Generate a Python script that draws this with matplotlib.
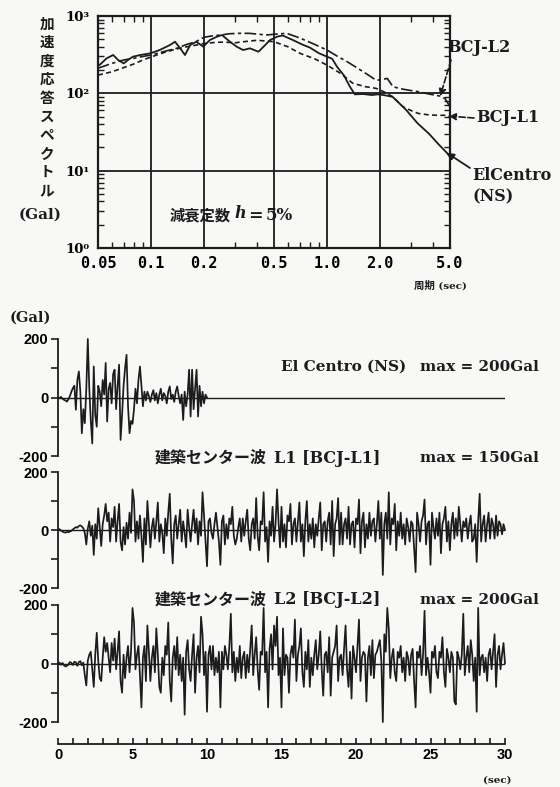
import numpy as np
import matplotlib.pyplot as plt
from matplotlib.ticker import LogLocator, NullFormatter, FixedLocator, MultipleLocator

# 加速度応答スペクトル h=5% (周期 sec, Gal)
ec_period = [0.05, 0.051, 0.056, 0.061, 0.065, 0.07, 0.074, 0.079, 0.087, 0.099,
             0.112, 0.128, 0.137, 0.149, 0.156, 0.167, 0.181, 0.198, 0.216, 0.237,
             0.253, 0.281, 0.307, 0.334, 0.365, 0.408, 0.436, 0.475, 0.52, 0.56,
             0.64, 0.72, 0.8, 0.9, 1.0, 1.07, 1.14, 1.25, 1.35, 1.44,
             1.6, 1.8, 1.94, 2.1, 2.36, 2.8, 3.27, 3.8, 4.3, 4.8, 5.0]
ec_sa = [240, 232, 284, 313, 270, 244, 270, 298, 313, 329,
         363, 421, 465, 363, 313, 421, 465, 401, 489, 540,
         568, 465, 401, 363, 382, 345, 401, 489, 540, 560,
         489, 430, 390, 330, 298, 280, 221, 170, 122, 97,
         98, 95, 97, 95, 90, 62, 41, 30, 22, 17, 15]

l1_period = [0.05, 0.06, 0.07, 0.08, 0.09, 0.1, 0.12, 0.14, 0.16, 0.18,
             0.2, 0.23, 0.26, 0.3, 0.35, 0.4, 0.45, 0.5, 0.6, 0.7,
             0.85, 1.0, 1.2, 1.4, 1.65, 1.9, 2.1, 2.37, 2.7, 3.0,
             3.3, 3.7, 4.2, 4.8, 5.0]
l1_sa = [172, 190, 215, 240, 270, 295, 340, 375, 400, 420,
         440, 455, 460, 450, 470, 485, 475, 465, 400, 330,
         280, 232, 180, 135, 122, 116, 105, 90, 67, 60,
         55, 53, 52, 52, 50]

l2_period = [0.05, 0.06, 0.07, 0.08, 0.09, 0.1, 0.12, 0.14, 0.16, 0.18,
             0.2, 0.22, 0.25, 0.28, 0.32, 0.36, 0.4, 0.45, 0.5, 0.59,
             0.7, 0.85, 1.0, 1.15, 1.3, 1.5, 1.7, 1.9, 2.05, 2.2,
             2.37, 2.6, 2.9, 3.3, 3.8, 4.4, 4.7, 5.0]
l2_sa = [211, 244, 270, 284, 300, 313, 350, 382, 430, 465,
         530, 551, 568, 590, 597, 597, 585, 568, 580, 597,
         520, 430, 363, 300, 257, 210, 175, 148, 150, 156,
         122, 115, 110, 105, 98, 92, 85, 67]

# 加速度波形 (Gal), 0.1秒刻み
dt = 0.1
ec_acc = [0, -2, 2, -4, -8, -10, -14, -6, 5, 20,
          32, 40, -42, 60, 89, 20, -122, -40, -88, 30,
          200, 30, -80, -157, 106, -60, -100, 40, 20, -30,
          60, 10, 118, -82, 30, 50, -20, 80, 95, -40,
          40, 112, -145, -60, 40, 100, 146, -30, -122, -80,
          -90, -40, 30, -20, 60, 106, 40, -30, 20, -10,
          20, 5, -15, 10, 25, -10, 15, -20, 10, 30,
          -10, 15, 5, -20, 20, 38, -5, 10, -15, 20,
          38, 5, -20, 10, -77, 20, -30, 10, 95, -65,
          95, -40, 30, 95, -65, 40, -30, 20, -20, 10,
          0]

l1_acc = [0, 3, -2, -5, -8, -9, -6, -8, -5, -3,
          2, 6, 10, 8, 14, 16, 12, 6, -10, -50,
          5, 30, -20, 15, -86, 20, -30, 75, 10, -55,
          20, 50, 90, 30, 60, -40, 40, 10, 80, -40,
          30, 90, -40, -70, 10, -50, 25, -30, 60, -10,
          140, 100, -40, 30, -30, 50, -20, -110, 40, -50,
          100, 20, -60, 10, 40, -30, 30, 95, -40, 20,
          -10, -80, 40, -20, 60, 125, -30, -115, 20, 50,
          -30, 20, 70, -40, 30, -10, -60, 70, 10, -40,
          20, 70, -10, 40, -50, 30, -20, 130, 50, -40,
          -125, 30, 40, -10, -30, 20, 60, 10, -40, -120,
          30, 50, -50, 20, -30, 40, 20, 80, -20, -50,
          -30, 10, 40, -40, 40, -20, 30, 70, -30, -70,
          20, 40, -30, 110, -20, -70, 30, 20, 130, -40,
          10, -110, 30, -20, 80, -40, 20, 140, 30, -60,
          80, -40, 20, -60, 50, 30, 90, -50, 20, 40,
          -40, 30, 95, -40, 20, -90, 30, 100, -40, 20,
          -30, 40, -60, 20, -20, 40, 95, -70, 20, 30,
          -40, 30, 60, -50, 100, -90, 20, 40, 110, -50,
          60, -50, 20, 40, -30, 80, -50, 20, 30, -60,
          40, 20, 105, -80, 30, 60, -60, 20, -30, 60,
          -20, 30, 40, -40, 20, 100, -30, 60, -155, 20,
          60, -30, 130, -50, 40, 20, 90, -70, 30, -20,
          60, -30, 20, -50, 40, 10, -40, 30, 20, -60,
          -145, 60, 20, -40, 30, 50, 105, -50, 20, 30,
          -120, 60, 10, -30, 40, -20, 60, -80, 20, 40,
          80, -40, 30, -70, 20, 60, -30, 40, -20, 80,
          20, -40, 30, 10, 40, -30, 20, 50, -40, -30,
          20, -110, 30, 125, -40, 20, 50, -40, 20, 60,
          -30, 40, 20, -30, 50, -20, 30, 20, -15, 20,
          0]

l2_acc = [0, 3, -4, 2, -6, -10, -8, -3, 5, 2,
          -5, 6, 4, -8, 5, 8, -6, 3, -40, -75,
          10, 30, 40, -20, -80, 30, 105, 10, -50, -60,
          20, 90, 40, 70, 20, -30, 70, 10, 85, -20,
          40, 110, -60, -100, 30, -50, 20, 60, -30, 40,
          190, 140, -20, 30, 60, -40, -150, 20, 60, -60,
          130, 40, -60, 20, 60, -30, 120, 30, -80, -100,
          20, -40, 60, 30, 140, -60, -130, 20, 60, -20,
          90, -40, 30, -60, 20, -175, 40, 80, -20, -60,
          30, 100, -100, 20, 60, -30, 160, 100, -40, 40,
          -165, 30, 60, -20, 60, -40, 20, -30, 40, -150,
          40, -20, 60, 30, -20, 60, 170, -30, 40, -60,
          20, -30, 60, -50, 20, 40, -50, 30, -30, 50,
          130, -40, 30, 90, -20, -90, 40, 30, 190, -30,
          40, -150, 50, 100, -20, 130, 60, 160, -40, 20,
          -150, 120, -40, 30, 20, -100, 30, 60, 20, 150,
          -60, 30, 60, 120, -30, -80, 40, -20, 80, -80,
          20, -40, 30, 80, -20, 30, 110, -20, -110, 30,
          40, -30, 90, -110, 20, 40, 60, 130, -60, 20,
          30, -40, 50, 130, -20, -80, 40, -120, 60, 20,
          -30, 60, 150, -60, 20, 40, 30, -130, 20, 60,
          -40, 80, -50, 30, 40, 60, 80, 10, -200, 100,
          40, 190, 120, -50, 20, 50, -30, -60, 40, 20,
          60, -30, 20, -60, 40, 20, -40, 30, 50, -60,
          -150, 40, 20, 60, -40, 30, 180, -40, 20, -30,
          -100, 40, 20, 60, -30, -50, 40, 20, 90, -30,
          -80, 50, 20, -30, 40, 20, -130, -140, 40, 20,
          -20, 30, 170, -40, 20, 60, -30, 80, 30, -60,
          20, -165, 190, -40, 20, 30, -30, 20, -60, 30,
          50, -20, 40, 100, -80, 30, 60, -20, 30, 70,
          0]

# 波形タイトル: (和文, 波形名, 最大値)
wave_titles = [('', 'El Centro (NS)', 'max = 200Gal'),
               ('建築センター波', 'L1 [BCJ-L1]', 'max = 150Gal'),
               ('建築センター波', 'L2 [BCJ-L2]', 'max = 200Gal')]

INK = '#1c1c1c'
PAPER = '#f8f8f6'
SERIF = ['DejaVu Serif', 'Noto Sans CJK JP']
CJK = ['Noto Sans CJK JP', 'DejaVu Serif']
SANS = ['Liberation Sans', 'DejaVu Sans']
MONO = ['DejaVu Sans Mono']

W, H = 560, 787
fig = plt.figure(figsize=(W / 100, H / 100), dpi=100, facecolor=PAPER)


def px_rect(left, top, right, bottom):
    return [left / W, 1 - bottom / H, (right - left) / W, (bottom - top) / H]


def ftext(x, y, s, **kw):
    fig.text(x / W, 1 - y / H, s, **kw)


# ---------------- 応答スペクトル ----------------
ax = fig.add_axes(px_rect(98, 16, 450, 248))
ax.set_facecolor(PAPER)
ax.plot(ec_period, ec_sa, color=INK, lw=1.3)
ax.plot(l1_period, l1_sa, color=INK, lw=1.2, dashes=(3, 2))
ax.plot(l2_period, l2_sa, color=INK, lw=1.2, dashes=(7, 2, 2, 2))
ax.set_xscale('log')
ax.set_yscale('log')
ax.set_xlim(0.05, 5)
ax.set_ylim(1, 1000)
ax.xaxis.set_major_locator(FixedLocator([0.05, 0.1, 0.2, 0.5, 1, 2, 5]))
ax.set_xticklabels(['0.05', '0.1', '0.2', '0.5', '1.0', '2.0', '5.0'],
                   family=MONO, weight='bold', fontsize=11)
ax.xaxis.set_minor_locator(LogLocator(subs=np.arange(2, 10)))
ax.xaxis.set_minor_formatter(NullFormatter())
ax.set_yticks([1, 10, 100, 1000])
ax.set_yticklabels(['10⁰', '10¹', '10²', '10³'], family='DejaVu Serif',
                   weight='bold', fontsize=9.5)
ax.yaxis.set_minor_locator(LogLocator(subs=np.arange(2, 10)))
ax.yaxis.set_minor_formatter(NullFormatter())
ax.grid(which='major', color=INK, lw=1.3)
ax.tick_params(which='both', direction='in', top=True, right=True, color=INK)
ax.tick_params(axis='x', which='major', length=0, pad=6)
ax.tick_params(axis='y', which='major', length=0, pad=6)
ax.tick_params(which='minor', length=4, width=1)
for s in ax.spines.values():
    s.set_linewidth(1.6)
    s.set_color(INK)

# 減衰定数 h=5%
ftext(170, 215, '減衰定数', family=CJK, weight='bold', fontsize=11,
      va='center', color=INK)
ftext(234, 214, 'h', family='DejaVu Serif', style='italic', weight='bold',
      fontsize=11.5, va='center', color=INK)
ftext(248, 215, '=', family='DejaVu Serif', weight='bold', fontsize=12.5,
      va='center', color=INK)
ftext(266, 215, '5%', family='DejaVu Serif', weight='bold', fontsize=12,
      va='center', color=INK)

ftext(47, 107, '\n'.join('加速度応答スペクトル'), family=CJK, fontsize=10.5,
      weight='bold', ha='center', va='center', linespacing=1.2, color=INK)
ftext(40, 215, '(Gal)', family=SERIF, weight='bold', fontsize=11,
      ha='center', va='center', color=INK)
ftext(440, 285, '周期 (sec)', family=SERIF, fontsize=7.5, weight='bold',
      ha='center', va='center', color=INK)

# ラベル と 矢印
lab = dict(family=SERIF, weight='bold', fontsize=11.5, color=INK, va='center')
ftext(447, 47, 'BCJ-L2', **lab)
ftext(476, 118, 'BCJ-L1', **lab)
ftext(472, 176, 'ElCentro', **lab)
ftext(472, 197, '(NS)', **lab)

t_l2 = 4.4
y_l2 = np.exp(np.interp(np.log(t_l2), np.log(l2_period), np.log(l2_sa)))
ax.annotate('', xy=(t_l2, y_l2), xycoords='data', xytext=(451, H - 60),
            textcoords='figure pixels',
            arrowprops=dict(arrowstyle='-|>', color=INK, lw=1.2, ls='--',
                            mutation_scale=10, shrinkA=0, shrinkB=0))
t_l1 = 4.92
y_l1 = np.exp(np.interp(np.log(t_l1), np.log(l1_period), np.log(l1_sa)))
ax.annotate('', xy=(t_l1, y_l1), xycoords='data', xytext=(474, H - 118),
            textcoords='figure pixels',
            arrowprops=dict(arrowstyle='-|>', color=INK, lw=1.2, ls='--',
                            mutation_scale=10, shrinkA=0, shrinkB=0))
t_ec = 4.8
y_ec = np.exp(np.interp(np.log(t_ec), np.log(ec_period), np.log(ec_sa)))
ax.annotate('', xy=(t_ec, y_ec), xycoords='data', xytext=(470, H - 168),
            textcoords='figure pixels',
            arrowprops=dict(arrowstyle='-|>', color=INK, lw=1.3,
                            mutation_scale=10, shrinkA=0, shrinkB=0))

# ---------------- 加速度波形 ----------------
panels = [(339, 456, ec_acc), (472, 588, l1_acc), (605, 722, l2_acc)]
title_y = [367, 458, 600]
name_x = [281, 274, 274]
axes = []
for i, (top, bottom, acc) in enumerate(panels):
    a = fig.add_axes(px_rect(58, top, 505, bottom))
    a.set_facecolor('none')
    t = np.arange(len(acc)) * dt
    a.plot(t, acc, color=INK, lw=1.25, clip_on=False)
    a.axhline(0, color=INK, lw=1.0)
    a.set_xlim(0, 30)
    a.set_ylim(-200, 200)
    a.set_yticks([-200, 0, 200])
    a.set_yticklabels(['-200', '0', '200'], family=SANS, weight='bold',
                      fontsize=10.5)
    a.yaxis.set_minor_locator(FixedLocator([-100, 100]))
    a.tick_params(axis='y', which='both', direction='out', length=5, width=1.2,
                  color=INK, pad=2)
    for side in ['top', 'right']:
        a.spines[side].set_visible(False)
    a.spines['left'].set_linewidth(1.3)
    a.spines['left'].set_color(INK)
    if i < 2:
        a.spines['bottom'].set_visible(False)
        a.set_xticks([])
    axes.append(a)
    jp, name, mx = wave_titles[i]
    if jp:
        ftext(155, title_y[i], jp, family=CJK, weight='bold', fontsize=11.5,
              va='center', color=INK)
    ftext(name_x[i], title_y[i], name, family=SERIF, weight='bold',
          fontsize=11 if i == 0 else 11.5, va='center', color=INK)
    ftext(539, title_y[i], mx, family=SERIF, weight='bold', fontsize=11,
          ha='right', va='center', color=INK)

ab = axes[2]
ab.spines['bottom'].set_position(('outward', 16))
ab.spines['bottom'].set_linewidth(1.3)
ab.spines['bottom'].set_color(INK)
ab.xaxis.set_major_locator(MultipleLocator(5))
ab.xaxis.set_minor_locator(MultipleLocator(1))
ab.tick_params(axis='x', which='both', direction='in', length=4, width=1.2,
               color=INK, pad=3)
ab.set_xticklabels([str(v) for v in range(-5, 40, 5)], family=SANS,
                   weight='bold', fontsize=10.5)

ftext(30, 318, '(Gal)', family=SERIF, weight='bold', fontsize=10.5,
      ha='center', va='center', color=INK)
ftext(497, 780, '(sec)', family=SERIF, weight='bold', fontsize=7.5,
      ha='center', va='center', color=INK)

fig.savefig('out.png', dpi=100, facecolor=PAPER)
